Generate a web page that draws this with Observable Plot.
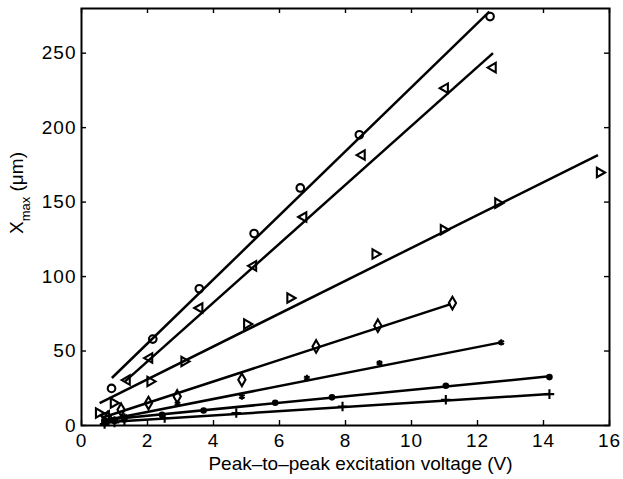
<!DOCTYPE html>
<html>
<head>
<meta charset="utf-8">
<script src="https://cdn.jsdelivr.net/npm/d3@7"></script>
<script src="https://cdn.jsdelivr.net/npm/@observablehq/plot@0.6"></script>
<style>
  body { margin: 0; background: #fff; }
  #chart svg { display: block; }
</style>
</head>
<body>
<div id="chart"></div>
<script>
// Axis ticks
const xTicks = [0, 2, 4, 6, 8, 10, 12, 14, 16];
const yTicks = [0, 50, 100, 150, 200, 250];

// Measured displacement Xmax (µm) against peak-to-peak voltage (V), one pair of arrays per device
const circleV = [0.91, 2.16, 3.57, 5.23, 6.63, 8.42, 12.38];
const circleX = [24.9, 58.0, 91.8, 128.9, 159.5, 195.2, 274.6];

const leftTriV = [0.75, 1.38, 2.06, 3.58, 5.21, 6.73, 8.50, 11.02, 12.47];
const leftTriX = [6.5, 30.5, 45.3, 78.9, 107.2, 140.0, 181.6, 226.5, 240.3];

const rightTriV = [0.52, 0.97, 2.08, 3.11, 5.01, 6.32, 8.90, 10.97, 12.62, 15.70];
const rightTriX = [8.4, 15.1, 29.6, 43.0, 68.1, 85.6, 115.1, 131.4, 149.3, 169.9];

const diamondV = [0.80, 1.20, 2.03, 2.90, 4.86, 7.11, 8.98, 11.24];
const diamondX = [5.0, 10.6, 15.1, 19.5, 30.7, 53.1, 67.0, 82.2];

const starV = [0.70, 1.00, 1.30, 2.91, 4.86, 6.83, 9.03, 12.72];
const starX = [2.5, 4.0, 6.0, 14.6, 19.5, 31.9, 41.9, 55.8];

const dotV = [0.70, 1.00, 1.30, 2.44, 3.70, 5.87, 7.59, 11.04, 14.18];
const dotX = [1.5, 3.0, 4.0, 7.2, 10.1, 15.3, 18.9, 26.7, 32.5];

const plusV = [0.70, 1.00, 1.30, 2.52, 4.69, 7.91, 11.04, 14.18];
const plusX = [1.0, 2.0, 3.0, 5.0, 8.4, 12.8, 17.3, 21.1];

// Linear fits: start and end of each fitted line, same device order as above
const fitStartV = [0.92, 1.32, 0.55, 0.60, 0.60, 0.60, 0.60];
const fitStartX = [31.9, 29.6, 15.1, 5.0, 3.0, 3.5, 2.0];
const fitEndV   = [12.36, 12.47, 15.65, 11.19, 12.72, 14.18, 14.18];
const fitEndX   = [277.9, 250.0, 181.5, 81.5, 55.8, 33.0, 21.1];

const fits = fitStartV.map((v, i) => ({v0: v, x0: fitStartX[i], v1: fitEndV[i], x1: fitEndX[i]}));
const pts = (V, X) => V.map((v, i) => ({v, x: X[i]}));

const ink = "black";
const open = {x: "v", y: "x", fill: "none", stroke: ink, strokeWidth: 2.1};

const W = 623, H = 479, ML = 81, MR = 14, MT = 8, MB = 54;
const frameW = W - ML - MR, frameH = H - MT - MB, tickLen = 5;

const chart = Plot.plot({
  width: W,
  height: H,
  marginLeft: ML,
  marginRight: MR,
  marginTop: MT,
  marginBottom: MB,
  x: {domain: [0, 16], axis: null},
  y: {domain: [0, 280], axis: null},
  style: {fontFamily: "'Liberation Sans', Arial, Helvetica, sans-serif", fontSize: "19px", color: ink, background: "white"},
  marks: [
    Plot.link(fits, {x1: "v0", y1: "x0", x2: "v1", y2: "x1", stroke: ink, strokeWidth: 2.5}),
    Plot.dot(pts(circleV, circleX), {...open, symbol: "circle", r: 3.8}),
    Plot.dot(pts(leftTriV, leftTriX), {...open, symbol: "triangle", r: 3.5, rotate: -90}),
    Plot.dot(pts(rightTriV, rightTriX), {...open, symbol: "triangle", r: 3.5, rotate: 90}),
    Plot.dot(pts(diamondV, diamondX), {...open, symbol: "diamond", r: 3.8}),
    Plot.dot(pts(starV, starX), {...open, symbol: "asterisk", r: 3.0}),
    Plot.dot(pts(dotV, dotX), {x: "v", y: "x", symbol: "circle", r: 3.3, fill: ink, stroke: "none"}),
    Plot.dot(pts(plusV, plusX), {...open, symbol: "plus", r: 3.2}),
    Plot.frame({stroke: ink, strokeWidth: 2}),
    // inward ticks on all four sides
    Plot.tickX(xTicks, {x: d => d, insetTop: frameH - tickLen, stroke: ink, strokeWidth: 1.4}),
    Plot.tickX(xTicks, {x: d => d, insetBottom: frameH - tickLen, stroke: ink, strokeWidth: 1.4}),
    Plot.tickY(yTicks, {y: d => d, insetRight: frameW - tickLen, stroke: ink, strokeWidth: 1.4}),
    Plot.tickY(yTicks, {y: d => d, insetLeft: frameW - tickLen, stroke: ink, strokeWidth: 1.4}),
    Plot.axisX({ticks: xTicks, tickSize: 0, tickPadding: 8, label: null, fontSize: 19}),
    Plot.axisY({ticks: yTicks, tickSize: 0, tickPadding: 5, label: null, fontSize: 19}),
    Plot.text(["Peak\u2013to\u2013peak excitation voltage (V)"], {frameAnchor: "bottom", dx: 15, dy: 38, fontSize: 19, lineAnchor: "middle"})
  ]
});

document.getElementById("chart").appendChild(chart);

// wider tracking for the tick numerals
d3.select(chart).selectAll("[aria-label$='tick label'] text").attr("letter-spacing", "1px");

// Y-axis title with subscript
const yLabel = d3.select(chart).append("text")
  .attr("transform", "translate(23,193) rotate(-90)")
  .attr("text-anchor", "middle")
  .attr("font-size", 19)
  .attr("fill", ink);
yLabel.append("tspan").text("X");
yLabel.append("tspan").attr("font-size", 13).attr("dy", 7).text("max");
yLabel.append("tspan").attr("dy", -7).text(" (\u03bcm)");
</script>
</body>
</html>
